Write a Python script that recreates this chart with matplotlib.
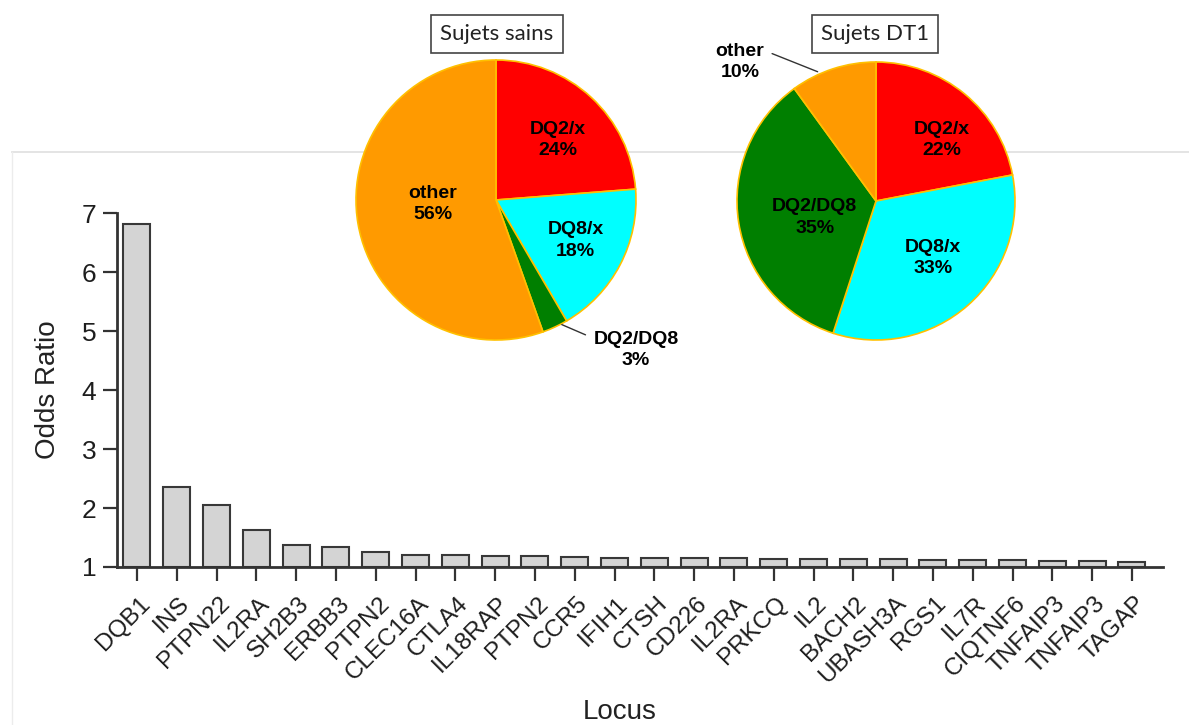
import matplotlib.pyplot as plt
from matplotlib.lines import Line2D
from matplotlib.transforms import ScaledTranslation

# bar chart data
loci = ['DQB1', 'INS', 'PTPN22', 'IL2RA', 'SH2B3', 'ERBB3', 'PTPN2', 'CLEC16A',
        'CTLA4', 'IL18RAP', 'PTPN2', 'CCR5', 'IFIH1', 'CTSH', 'CD226', 'IL2RA',
        'PRKCQ', 'IL2', 'BACH2', 'UBASH3A', 'RGS1', 'IL7R', 'CIQTNF6', 'TNFAIP3',
        'TNFAIP3', 'TAGAP']
odds_ratio = [6.81, 2.35, 2.05, 1.63, 1.37, 1.34, 1.25, 1.21,
              1.20, 1.19, 1.19, 1.17, 1.16, 1.16, 1.16, 1.15,
              1.14, 1.13, 1.13, 1.13, 1.12, 1.12, 1.12, 1.11,
              1.10, 1.09]

# pie data
pie_labels = ['DQ2/x', 'DQ8/x', 'DQ2/DQ8', 'other']
pie_colors = ['#FF0000', '#00FFFF', '#007F00', '#FF9A00']
sains_pct = [24, 18, 3, 56]
dt1_pct = [22, 33, 35, 10]

plt.rcParams['font.family'] = ['Liberation Sans', 'DejaVu Sans']

W, H = 1189, 725
fig = plt.figure(figsize=(W / 100, H / 100), dpi=100)

# faint frame lines of the slide behind the chart
fig.add_artist(Line2D([12 / W, 1], [1 - 152 / H] * 2, color='#e2e2e2', lw=1.3, zorder=-5))
fig.add_artist(Line2D([12 / W] * 2, [1 - 152 / H, 0], color='#ececec', lw=1.0, zorder=-5))

# ---- bar chart ----
ax = fig.add_axes([117 / W, 1 - 567 / H, (1163 - 117) / W, (567 - 213) / H])
ax.patch.set_alpha(0)
xpos = list(range(len(loci)))
ax.bar(xpos, [v - 1 for v in odds_ratio], bottom=1, width=0.68,
       color='#d4d4d4', edgecolor='#383838', linewidth=1.5, zorder=2)
ax.set_xlim(-0.5, len(loci) - 1 + 0.78)
ax.set_ylim(1, 7)
for s in ['top', 'right']:
    ax.spines[s].set_visible(False)
for s in ['left', 'bottom']:
    ax.spines[s].set_linewidth(2)
    ax.spines[s].set_color('#333333')
ax.set_xticks(xpos)
ax.set_yticks(range(1, 8))
ax.tick_params(axis='both', length=10, width=1.6, color='#333333', direction='out')
ax.tick_params(axis='y', labelsize=19, pad=5, labelcolor='#1e1e1e')
ax.tick_params(axis='x', pad=14)
ax.set_xticklabels(loci, rotation=45, ha='right', va='center', rotation_mode='anchor',
                   fontsize=17.5, color='#1e1e1e')
# nudge the rotated labels a little to the right, as in the original
shift = ScaledTranslation(7 / 72, 0, fig.dpi_scale_trans)
for lab in ax.get_xticklabels():
    lab.set_transform(lab.get_transform() + shift)
ax.set_ylabel('Odds Ratio', fontsize=20, color='#222222', va='center')
ax.yaxis.set_label_coords(-0.066, 0.5)
ax.set_xlabel('Locus', fontsize=20, color='#222222', va='center')
ax.xaxis.set_label_coords(0.481, -0.41)


# ---- pies ----
def draw_pie(cx, cy, r, values, inside, outside):
    pax = fig.add_axes([(cx - r) / W, 1 - (cy + r) / H, 2 * r / W, 2 * r / H])
    pax.pie(values, colors=pie_colors, startangle=90, counterclock=False,
            wedgeprops=dict(edgecolor='#FFC000', linewidth=1.2))
    pax.set_xlim(-1, 1)
    pax.set_ylim(-1, 1)
    pax.axis('off')
    for i, (tx, ty) in inside:
        pax.text(tx, ty, '%s\n%d%%' % (pie_labels[i], values[i]), ha='center',
                 va='center', fontsize=14, fontweight='bold', linespacing=1.35)
    i, (ex, ey), (tx, ty), rel = outside
    pax.annotate('%s\n%d%%' % (pie_labels[i], values[i]), xy=(ex, ey), xytext=(tx, ty),
                 ha='center', va='center', fontsize=14, fontweight='bold',
                 linespacing=1.35, annotation_clip=False,
                 arrowprops=dict(arrowstyle='-', color='#333333', lw=1.0,
                                 relpos=rel, shrinkA=4, shrinkB=0))
    return pax


draw_pie(496, 200, 140, sains_pct,
         [(0, (0.44, 0.43)), (1, (0.57, -0.29)), (3, (-0.45, -0.03))],
         (2, (0.47, -0.89), (1.0, -1.07), (0.0, 0.8)))
draw_pie(876, 201, 139, dt1_pct,
         [(0, (0.47, 0.44)), (1, (0.41, -0.41)), (2, (-0.44, -0.12))],
         (3, (-0.42, 0.93), (-0.98, 1.0), (1.0, 0.8)))

box = dict(boxstyle='square,pad=0.42', fc='white', ec='#444444', lw=1.2)
fig.text(497 / W, 1 - 34 / H, 'Sujets sains', ha='center', va='center', fontsize=16,
         family=['Lato', 'DejaVu Sans'], color='#222222', bbox=box)
fig.text(875 / W, 1 - 34 / H, 'Sujets DT1', ha='center', va='center', fontsize=16,
         family=['Lato', 'DejaVu Sans'], color='#222222', bbox=box)

fig.savefig('out.png', dpi=100)
